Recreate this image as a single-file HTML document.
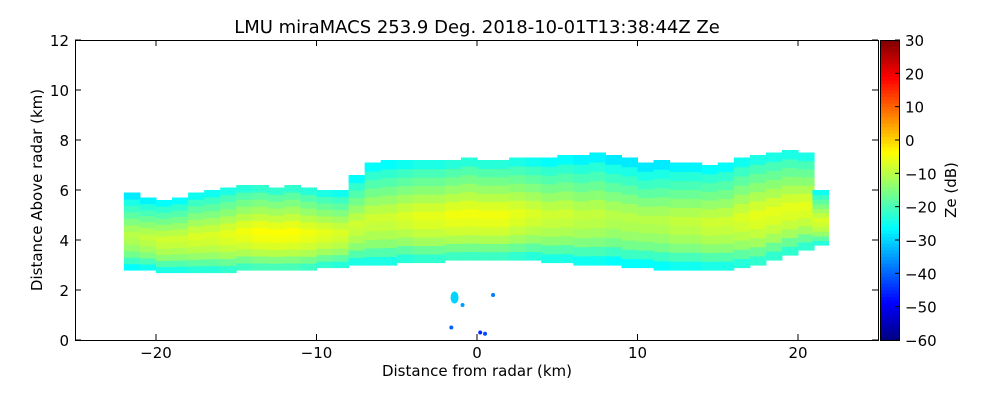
<!DOCTYPE html>
<html><head><meta charset="utf-8"><style>
body{margin:0;background:#fff;}
svg{display:block;font-family:"DejaVu Sans","Liberation Sans",sans-serif;}
</style></head><body>
<svg id="chart" width="1000" height="400" viewBox="0 0 1000 400">
<text x="477" y="33" font-size="18" text-anchor="middle">LMU miraMACS 253.9 Deg. 2018-10-01T13:38:44Z  Ze</text>
<g id="data"></g>
<g id="blobs"></g>
<rect x="75.5" y="40.5" width="803" height="300" fill="none" stroke="#000"/>
<g id="xticks"></g>
<g id="yticks"></g>
<text x="477" y="376" font-size="15" text-anchor="middle">Distance from radar (km)</text>
<text transform="translate(42,190) rotate(-90)" font-size="15" text-anchor="middle">Distance Above radar  (km)</text>
<g id="cbar"></g>
<text transform="translate(956,190) rotate(-90)" font-size="15" text-anchor="middle">Ze (dB)</text>
</svg>
<script>
const dist=[-21.5,-20.5,-19.5,-18.5,-17.5,-16.5,-15.5,-14.5,-13.5,-12.5,-11.5,-10.5,-9.5,-8.5,-7.5,-6.5,-5.5,-4.5,-3.5,-2.5,-1.5,-0.5,0.5,1.5,2.5,3.5,4.5,5.5,6.5,7.5,8.5,9.5,10.5,11.5,12.5,13.5,14.5,15.5,16.5,17.5,18.5,19.5,20.5,21.4];
const tops=[5.9,5.7,5.6,5.7,5.9,6.0,6.1,6.2,6.2,6.1,6.2,6.1,6.0,6.0,6.6,7.1,7.2,7.2,7.2,7.2,7.2,7.3,7.2,7.2,7.3,7.3,7.3,7.4,7.4,7.5,7.4,7.3,7.1,7.2,7.1,7.1,7.0,7.1,7.3,7.4,7.5,7.6,7.5,6.0];
const bottoms=[2.8,2.8,2.7,2.7,2.7,2.7,2.7,2.8,2.8,2.8,2.8,2.8,2.9,2.9,3.0,3.0,3.0,3.1,3.1,3.1,3.2,3.2,3.2,3.2,3.2,3.2,3.1,3.1,3.0,3.0,3.0,2.9,2.9,2.8,2.8,2.8,2.8,2.8,2.9,3.0,3.2,3.4,3.6,3.8];
const coreDb=[-10,-9,-8,-8,-7,-7,-6,-5,-4,-4,-4,-5,-6,-7,-8,-8,-8,-7,-6,-6,-5,-5,-5,-5,-6,-7,-8,-8,-9,-9,-10,-10,-10,-10,-9,-9,-8,-8,-7,-6,-6,-6,-6,-7];
const profileOffset=[-16,-11,-6,-3,-1,0,-2,-5,-8,-11,-14,-18];
const blobDist=[-1.4,-0.9,1.0,-1.6,0.2,0.5];
const blobHeight=[1.7,1.4,1.8,0.5,0.3,0.25];
const blobDb=[-30,-35,-38,-40,-45,-42];
const xTicks=[-20,-10,0,10,20];
const yTicks=[0,2,4,6,8,10,12];
const cbTicks=[-60,-50,-40,-30,-20,-10,0,10,20,30];
const sx=v=>477+v*16.05, sy=v=>340-v*25;
const NS="http://www.w3.org/2000/svg";
function jet(v){let t=(v+60)/90;t=Math.max(0,Math.min(1,t));
 const f=x=>Math.round(255*Math.max(0,Math.min(1,1.5-Math.abs(4*t-x))));
 return `rgb(${f(3)},${f(2)},${f(1)})`;}
const g=document.getElementById('data');
dist.forEach((d,i)=>{const n=profileOffset.length,b=bottoms[i],tp=tops[i];
 for(let k=0;k<n;k++){const y0=b+(tp-b)*k/n,y1=b+(tp-b)*(k+1)/n;
  const r=document.createElementNS(NS,'rect');
  r.setAttribute('x',sx(d-0.5));r.setAttribute('width',16.6);
  r.setAttribute('y',sy(y1));r.setAttribute('height',sy(y0)-sy(y1)+0.6);
  r.setAttribute('fill',jet(coreDb[i]+profileOffset[k]));
  
  
  g.appendChild(r);}});
const gb=document.getElementById('blobs');
blobDist.forEach((d,i)=>{const e=document.createElementNS(NS,'ellipse');
 e.setAttribute('cx',sx(d));e.setAttribute('cy',sy(blobHeight[i]));
 e.setAttribute('rx',i===0?4:2);e.setAttribute('ry',i===0?6:2);
 e.setAttribute('fill',jet(blobDb[i]));
 
 
 gb.appendChild(e);});
function add(p,tag,at,txt){const e=document.createElementNS(NS,tag);for(const k in at)e.setAttribute(k,at[k]);if(txt!==undefined)e.textContent=txt;p.appendChild(e);return e;}
const gx=document.getElementById('xticks');
xTicks.forEach(v=>{const x=sx(v);
 add(gx,'line',{x1:x,x2:x,y1:340,y2:334,stroke:'#000'});add(gx,'line',{x1:x,x2:x,y1:40,y2:46,stroke:'#000'});
 const t=add(gx,'text',{x:x,y:358,'font-size':15,'text-anchor':'middle'},(v<0?'\u2212':'')+Math.abs(v));
 
 });
const gy=document.getElementById('yticks');
yTicks.forEach(v=>{const y=sy(v);
 add(gy,'line',{x1:75,x2:81,y1:y,y2:y,stroke:'#000'});add(gy,'line',{x1:872,x2:878,y1:y,y2:y,stroke:'#000'});
 const t=add(gy,'text',{x:69,y:y+6,'font-size':15,'text-anchor':'end'},v);
 
 });
const gc=document.getElementById('cbar');
for(let i=0;i<90;i++){add(gc,'rect',{x:880,y:340-(i+1)*300/90,width:20,height:300/90+0.5,fill:jet(-60+i+0.5)});}
add(gc,'rect',{x:880.5,y:40.5,width:19,height:300,fill:'none',stroke:'#000'});
cbTicks.forEach(v=>{const y=340-(v+60)/90*300;
 add(gc,'line',{x1:895,x2:900,y1:y,y2:y,stroke:'#000'});
 const t=add(gc,'text',{x:905,y:y+6,'font-size':15},(v<0?'\u2212':'')+Math.abs(v));
 
 });
</script>
</body></html>
